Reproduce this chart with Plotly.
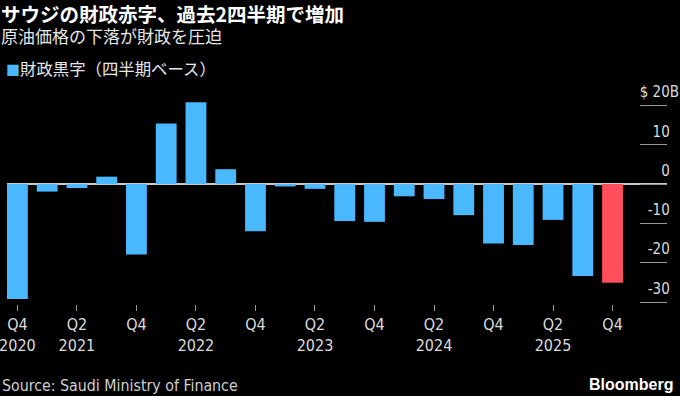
import plotly.graph_objects as go

# ---- data ----
quarters = ["Q4 2020", "Q1 2021", "Q2 2021", "Q3 2021", "Q4 2021",
            "Q1 2022", "Q2 2022", "Q3 2022", "Q4 2022",
            "Q1 2023", "Q2 2023", "Q3 2023", "Q4 2023",
            "Q1 2024", "Q2 2024", "Q3 2024", "Q4 2024",
            "Q1 2025", "Q2 2025", "Q3 2025", "Q4 2025"]
balance = [-29.2, -1.9, -1.0, 1.9, -17.9,
           15.4, 20.8, 3.8, -12.0,
           -0.6, -1.2, -9.4, -9.6,
           -3.1, -3.8, -7.9, -15.1,
           -15.5, -9.1, -23.4, -25.1]
x_tick_vals = quarters[0::2]
x_tick_text = ["Q4<br>2020", "Q2<br>2021", "Q4", "Q2<br>2022", "Q4",
               "Q2<br>2023", "Q4", "Q2<br>2024", "Q4", "Q2<br>2025", "Q4"]
y_tick_vals = [-30, -20, -10, 0, 10, 20]
y_tick_text = ["-30", "-20", "-10", "0", "10", "$ 20"]

BLUE = "#4AB8FF"
RED = "#FF4E5B"
colors = [BLUE] * (len(balance) - 1) + [RED]

W, H = 680, 396
L, R, T, B = 7, 13, 78, 92
PW, PH = W - L - R, H - T - B
Y_RANGE = [-30.5, 27]


def px_x(px):
    return (px - L) / PW


def px_y(py):
    return (H - B - py) / PH


hidden_b = "<span style='color:rgba(0,0,0,0)'>B</span>"
ytext = [t + ("B" if t.startswith("$") else hidden_b) for t in y_tick_text]

fig = go.Figure()
fig.add_trace(go.Bar(
    x=quarters, y=balance, marker=dict(color=colors, line=dict(width=0)),
    width=0.7, showlegend=False, name="財政黒字（四半期ベース）",
))
# empty trace that holds the short right-hand gridline subplot
fig.add_trace(go.Scatter(x=[], y=[], xaxis="x2", yaxis="y2", showlegend=False))

TICKFONT = dict(family="DejaVu Sans Condensed, Liberation Sans Narrow, sans-serif",
                size=15, color="#dcdcdc")
XTICKFONT = dict(TICKFONT, size=16)

fig.update_layout(
    width=W, height=H,
    margin=dict(l=L, r=R, t=T, b=B, pad=0),
    paper_bgcolor="#000000", plot_bgcolor="rgba(0,0,0,0)",
    bargap=0.3,
    xaxis=dict(
        type="category", range=[-0.35, 21.83], domain=[0, 1], automargin=False,
        tickvals=x_tick_vals, ticktext=x_tick_text,
        ticks="outside", ticklen=6, tickwidth=1, tickcolor="#9a9a9a",
        showgrid=False, zeroline=False, showline=False,
        tickfont=XTICKFONT, tickangle=0, ticklabelstandoff=0,
    ),
    yaxis=dict(
        range=Y_RANGE, automargin=False, side="right",
        showticklabels=False, ticks="", showgrid=False,
        zeroline=True, zerolinecolor="#c8c8c8", zerolinewidth=1.5, showline=False,
    ),
    xaxis2=dict(
        domain=[px_x(640), 1], anchor="y2", range=[0, 1], automargin=False,
        showgrid=False, zeroline=False, showline=False, showticklabels=False, ticks="",
    ),
    yaxis2=dict(
        domain=[0, 1], anchor="x2", side="right", range=Y_RANGE, automargin=False,
        tickvals=y_tick_vals, ticktext=ytext,
        ticks="", showgrid=True, gridcolor="#9a9a9a", gridwidth=1.3,
        ticklabelposition="inside top", ticklabelstandoff=-15, ticklabelshift=-3,
        zeroline=False, showline=False, tickfont=TICKFONT,
    ),
    annotations=[
        dict(text=("<span style='font-size:19.5px'><b>サウジの財政赤字、過去2四半期で増加</b></span>"
                   "<br><span style='font-size:17px;color:#e6e6e6'>原油価格の下落が財政を圧迫</span>"),
             x=px_x(0), y=px_y(-2), align="left", borderpad=0,
             xref="paper", yref="paper", xanchor="left", yanchor="top", showarrow=False,
             font=dict(family="Noto Sans CJK JP", size=16.5, color="#ffffff")),
        dict(text=f"<span style='color:{BLUE};font-size:14px'>■</span>財政黒字（四半期ベース）",
             x=px_x(4), y=px_y(68),
             xref="paper", yref="paper", xanchor="left", yanchor="middle", showarrow=False,
             font=dict(family="Noto Sans CJK JP", size=16.4, color="#e6e6e6")),
        dict(text="Source: Saudi Ministry of Finance", x=px_x(0), y=px_y(385),
             xref="paper", yref="paper", xanchor="left", yanchor="middle", showarrow=False,
             font=dict(family="DejaVu Sans Condensed, Liberation Sans Narrow, sans-serif",
                       size=15.8, color="#cfcfcf")),
        dict(text="<b>Bloomberg</b>", x=px_x(675), y=px_y(384),
             xref="paper", yref="paper", xanchor="right", yanchor="middle", showarrow=False,
             font=dict(family="Liberation Sans, Arial, sans-serif", size=16, color="#ffffff")),
    ],
)

fig.write_html("out.html", config={"displayModeBar": False},
               post_script="document.body.style.margin='0';document.body.style.background='#000';")
